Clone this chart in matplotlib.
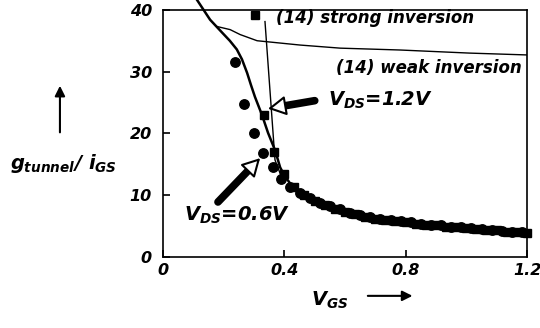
import matplotlib
matplotlib.use("Agg")
import matplotlib.pyplot as plt

plt.rcParams['font.family'] = ['DejaVu Sans']
plt.rcParams['font.weight'] = 'bold'
plt.rcParams['font.style'] = 'italic'
plt.rcParams['mathtext.fontset'] = 'custom'
plt.rcParams['mathtext.it'] = 'DejaVu Sans:italic:bold'
plt.rcParams['mathtext.rm'] = 'DejaVu Sans:italic:bold'
plt.rcParams['mathtext.bf'] = 'DejaVu Sans:italic:bold'

# measured g/i, V_DS = 1.2 V (squares)
sq_vgs = [0.303, 0.333, 0.366, 0.40, 0.433, 0.466, 0.50, 0.533, 0.566, 0.60,
          0.633, 0.666, 0.70, 0.733, 0.766, 0.80, 0.833, 0.866, 0.90, 0.933,
          0.966, 1.00, 1.033, 1.066, 1.10, 1.133, 1.166, 1.20]
sq_val = [39.2, 23.0, 17.0, 13.4, 11.4, 10.1, 9.1, 8.4, 7.8, 7.3,
          6.9, 6.5, 6.2, 6.0, 5.8, 5.6, 5.4, 5.2, 5.1, 4.9,
          4.8, 4.7, 4.5, 4.4, 4.3, 4.1, 4.0, 3.9]

# measured g/i, V_DS = 0.6 V (circles)
ci_vgs = [0.237, 0.267, 0.300, 0.330, 0.363, 0.389, 0.42, 0.45, 0.483, 0.516,
          0.55, 0.583, 0.616, 0.65, 0.683, 0.716, 0.75, 0.783, 0.816, 0.85,
          0.883, 0.916, 0.95, 0.983, 1.016, 1.05, 1.083, 1.116, 1.15, 1.183]
ci_val = [31.6, 24.7, 20.0, 16.9, 14.6, 12.6, 11.3, 10.4, 9.5, 8.8,
          8.2, 7.7, 7.2, 6.8, 6.5, 6.2, 6.0, 5.8, 5.6, 5.4,
          5.2, 5.1, 4.9, 4.8, 4.7, 4.5, 4.4, 4.2, 4.1, 4.0]

# model curve (thick)
mod_vgs = [0.112, 0.155, 0.195, 0.22, 0.243, 0.26, 0.277, 0.29, 0.303, 0.326,
           0.346, 0.369, 0.386, 0.40, 0.419, 0.452, 0.5, 0.6, 0.7, 0.8,
           0.9, 1.0, 1.1, 1.2]
mod_val = [41.6, 38.4, 36.3, 35.0, 33.6, 32.0, 29.8, 27.8, 25.9, 23.0,
           20.1, 17.3, 14.5, 13.2, 11.9, 10.6, 9.2, 7.5, 6.4, 5.7,
           5.2, 4.7, 4.3, 3.9]

# (14) weak inversion
weak_vgs = [0.178, 0.221, 0.254, 0.31, 0.452, 0.584, 0.781, 1.01, 1.2]
weak_val = [37.3, 36.8, 36.0, 35.0, 34.3, 33.8, 33.5, 33.0, 32.7]

# (14) strong inversion
strong_vgs = [0.336, 0.369, 0.39]
strong_val = [38.1, 15.7, 13.0]

xticks = [0, 0.4, 0.8, 1.2]
xticklabels = ['0', '0.4', '0.8', '1.2']
yticks = [0, 10, 20, 30, 40]

fig = plt.figure(figsize=(5.4, 3.28), dpi=100)
ax = fig.add_axes([0.302, 0.2165, 0.674, 0.7535])

ax.plot(mod_vgs, mod_val, color='black', lw=1.8, clip_on=False, zorder=3)
ax.plot(weak_vgs, weak_val, color='black', lw=1.0, zorder=3)
ax.plot(strong_vgs, strong_val, color='black', lw=1.0, zorder=3)
ax.plot(ci_vgs, ci_val, 'o', color='black', ms=6.8, zorder=4, clip_on=False)
ax.plot(sq_vgs, sq_val, 's', color='black', ms=6.3, zorder=4, clip_on=False)

ax.set_xlim(0, 1.2)
ax.set_ylim(0, 40)
ax.set_xticks(xticks)
ax.set_xticklabels(xticklabels)
ax.set_yticks(yticks)
ax.tick_params(direction='in', length=5, width=1.2, labelsize=11.5, pad=4)
ax.tick_params(axis='y', pad=8)
for s in ax.spines.values():
    s.set_linewidth(1.2)

ax.text(0.373, 38.6, '(14) strong inversion', fontsize=12, va='center', ha='left')
ax.text(1.184, 30.6, '(14) weak inversion', fontsize=12, va='center', ha='right')
ax.text(0.545, 25.3, r'$V_{DS}$=1.2V', fontsize=14, va='center', ha='left')
ax.text(0.07, 6.8, r'$V_{DS}$=0.6V', fontsize=14, va='center', ha='left')


def block_arrow(tail, tip, frac):
    base = (tip[0] + frac * (tail[0] - tip[0]), tip[1] + frac * (tail[1] - tip[1]))
    ax.annotate('', xy=base, xytext=tail,
                arrowprops=dict(arrowstyle='-', lw=5.5, color='black',
                                shrinkA=0, shrinkB=0), zorder=5)
    ax.annotate('', xy=tip, xytext=base,
                arrowprops=dict(arrowstyle='-|>,head_length=0.55,head_width=0.3',
                                lw=1.5, fc='white', ec='black', mutation_scale=20,
                                shrinkA=0, shrinkB=0), zorder=6)


block_arrow((0.50, 25.3), (0.346, 24.0), 0.3)
block_arrow((0.181, 8.9), (0.320, 16.0), 0.28)

# axis labels with arrows
fig.text(0.117, 0.503, r'$g_{tunnel}$/ $i_{GS}$', fontsize=14, ha='center', va='center')
fig.add_artist(matplotlib.patches.FancyArrowPatch(
    (0.111, 0.588), (0.111, 0.747), transform=fig.transFigure,
    arrowstyle='-|>,head_length=0.5,head_width=0.25', mutation_scale=12,
    lw=1.5, color='black'))
fig.text(0.611, 0.085, r'$V_{GS}$', fontsize=14, ha='center', va='center')
fig.add_artist(matplotlib.patches.FancyArrowPatch(
    (0.676, 0.098), (0.769, 0.098), transform=fig.transFigure,
    arrowstyle='-|>,head_length=0.5,head_width=0.25', mutation_scale=12,
    lw=1.5, color='black'))

fig.savefig('out.png', dpi=100)
